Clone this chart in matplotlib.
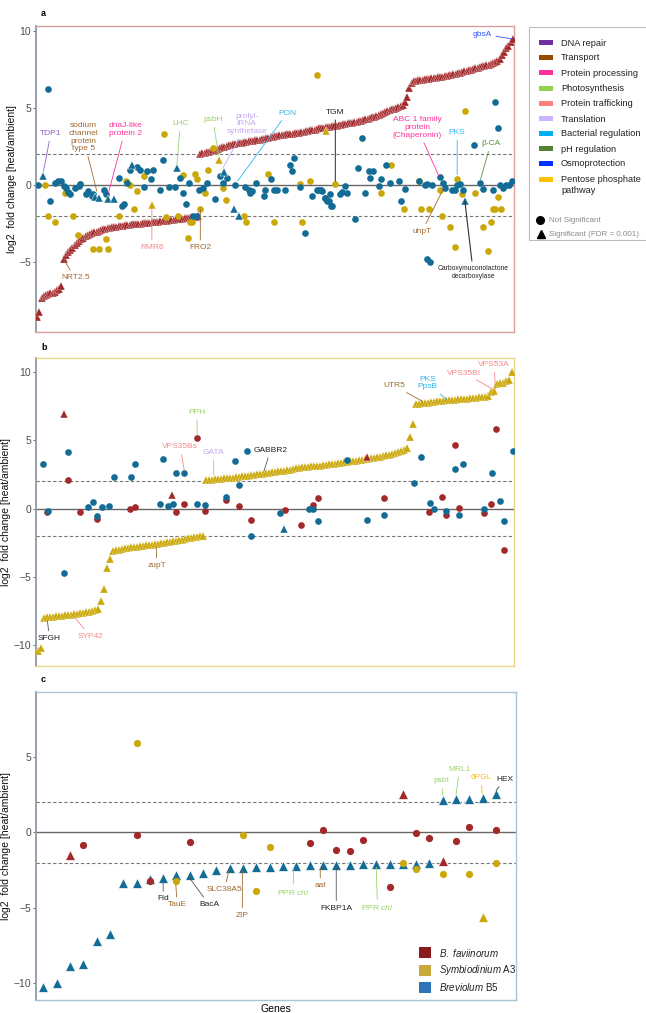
import matplotlib
matplotlib.use("Agg")
import matplotlib.pyplot as plt
from matplotlib.patches import Rectangle
from matplotlib.lines import Line2D

plt.rcParams['font.family'] = ['Liberation Sans', 'DejaVu Sans']
plt.rcParams['mathtext.fontset'] = 'custom'
plt.rcParams['mathtext.it'] = 'Liberation Sans:italic'
plt.rcParams['mathtext.rm'] = 'Liberation Sans'

RED = '#A3282A'
GOLD = '#CBA80A'
BLUE = '#136C96'

# ---------------- Panel a : B. faviinorum (significant, sorted) ----------------
a_fav_neg = [-8.5, -8.2,
             -7.3, -7.2, -7.1, -7.05, -7.0, -6.95, -6.9, -6.8, -6.7, -6.55,
             -4.8,
             -4.5, -4.35, -4.2, -4.05, -3.9, -3.75, -3.6, -3.5, -3.4, -3.3, -3.2,
             -3.15, -3.1, -3.05, -3.0, -2.95, -2.9, -2.86, -2.82, -2.79, -2.76, -2.73, -2.7, -2.68, -2.66, -2.64, -2.62,
             -2.6, -2.58, -2.56, -2.54, -2.52, -2.5, -2.49, -2.48, -2.46, -2.45, -2.44, -2.42, -2.4,
             -2.39, -2.38, -2.36, -2.35, -2.33, -2.31, -2.29, -2.27, -2.25, -2.23, -2.21, -2.2, -2.18, -2.16, -2.14,
             -2.12, -2.1, -2.08, -2.06, -2.04, -2.02]
a_fav_pos = [2.0, 2.05, 2.1, 2.12, 2.15, 2.2, 2.25, 2.3, 2.35, 2.4, 2.45, 2.5, 2.55, 2.6,
             2.62, 2.65, 2.68, 2.7, 2.73, 2.76, 2.8,
             2.82, 2.84, 2.86, 2.88, 2.9, 2.92, 2.94, 2.96,
             3.0, 3.03, 3.06, 3.1, 3.13, 3.16, 3.2, 3.22,
             3.24, 3.26, 3.28, 3.3, 3.32, 3.34, 3.36,
             3.38, 3.4, 3.43, 3.46, 3.49, 3.52, 3.55, 3.57,
             3.6, 3.64, 3.68, 3.7, 3.72,
             3.74, 3.76, 3.78, 3.8, 3.83, 3.86,
             3.89, 3.92, 3.95, 3.98, 4.0, 4.02, 4.04, 4.06, 4.1,
             4.14, 4.18, 4.22, 4.26, 4.3, 4.34, 4.38, 4.42,
             4.48, 4.54, 4.6, 4.66, 4.72, 4.78, 4.84,
             4.9, 4.96, 5.02, 5.08, 5.12, 5.16,
             5.35, 5.7, 6.3, 6.6, 6.75,
             6.77, 6.79, 6.81, 6.83, 6.85, 6.87, 6.89, 6.91, 6.93, 6.95, 6.97,
             7.0, 7.03, 7.06, 7.09, 7.12, 7.15, 7.18, 7.2,
             7.24, 7.28, 7.32, 7.36, 7.4, 7.44, 7.48, 7.52,
             7.56, 7.6, 7.64, 7.68, 7.72, 7.76, 7.8,
             7.86, 7.92, 7.98, 8.05, 8.15,
             8.4, 8.6, 8.85, 9.0, 9.25, 9.45]

# Breviolum B5 in panel a (not significant)
a_bre_gene = [4.8, 0.6, 5.9, 8.2, 9.7, 10.9, 12.0, 13.2, 14.2, 15.0, 17.3, 18.8, 19.5, 22.3, 23.3, 24.8, 25.6,
              30.2, 31.4, 37.0, 38.5, 39.5, 40.8, 42.0, 45.3, 46.8, 48.6, 49.8, 52.8, 51.5, 55.6, 57.1, 59.7,
              62.7, 65.0, 66.2, 67.7, 68.8, 70.8, 72.6, 73.3, 75.3, 77.1, 80.9, 83.2, 84.4, 86.2, 90.0, 94.5,
              96.0, 96.5, 97.6, 99.5, 102.9, 103.6, 106.2, 107.4, 108.9, 112.7, 114.7, 115.8, 116.8, 119.2,
              121.4, 124.8, 127.1, 129.4, 130.5, 132.4, 133.2, 127.8, 128.9, 130.9, 131.6, 133.9, 133.1, 137.4,
              138.4, 140.7, 140.0, 144.5, 145.6, 147.5, 149.0, 150.6, 151.3, 152.5, 155.1, 155.9, 158.6, 160.4,
              164.2, 165.3, 166.8, 173.3, 175.9, 177.1, 179.3, 182.8, 184.3, 185.0, 188.4, 189.5, 190.7, 191.9,
              193.4, 198.3, 201.0, 202.5, 207.1, 208.1, 209.2, 210.1, 211.6, 212.7, 214.2, 215.7, 176.8, 178.3]
a_bre_val = [6.2, 0.0, -1.0, 0.15, 0.26, 0.3, -0.06, -0.17, -0.43, -0.56, -0.17, -0.06, 0.09, -0.6, -0.39, -0.71, -0.6,
             -0.28, -0.56, 0.47, -1.35, -1.2, 0.15, 1.0, 1.16, 0.95, -0.13, 0.9, 0.95, 0.4, -0.34, 1.6, -0.13,
             -0.13, 0.47, -0.5, -1.25, 0.15, -2.0, -2.0, -0.28, -0.17, 0.15, -0.92, 0.58, 0.15, 0.47, 0.04, -0.13,
             -0.28, -0.5, -0.39, 0.15, -0.7, -0.34, 0.37, -0.28, -0.28, -0.28, 1.3, 0.9, 1.76, -0.13,
             -3.12, -0.7, -0.34, -0.39, -0.82, -1.03, -1.35, -0.34, -0.34, -0.82, -1.0, -1.35, -0.56, -0.56,
             -0.43, -0.5, -0.06, -2.2, 1.08, 3.05, -0.5, 0.9, 0.47, 0.9, -0.06, 0.37, 1.33, 0.15,
             0.26, -1.0, -0.22, 0.26, 0.0, 0.09, 0.04, 0.52, 0.15, -0.17, -0.28, -0.34, 0.0, 0.09,
             -0.28, 2.58, 0.15, -0.22, -0.28, 5.38, 3.7, 0.0, -0.17, 0.0, 0.0, 0.26, -4.8, -4.95]
a_bre_sig_gene = [2.9, 26.4, 27.9, 32.4, 34.7, 43.0, 63.5, 84.7, 89.2, 91.5, 194.2]
a_bre_sig_val = [0.58, -0.77, -0.82, -0.88, -0.88, 1.33, 1.12, 0.86, -1.57, -2.0, -1.0]

# Symbiodinium A3 in panel a
a_sym_gene = [3.6, 4.8, 8.2, 12.7, 16.2, 18.5, 19.5, 25.6, 27.9, 31.4, 32.4, 37.0, 40.5, 42.0, 43.8, 45.3, 48.6,
              57.7, 58.6, 63.8, 66.2, 69.2, 70.3, 68.3, 71.8, 72.6, 74.0, 76.4, 77.6, 79.8, 84.4, 85.9, 93.8,
              95.0, 105.0, 107.4, 119.2, 120.3, 123.8, 127.0, 135.4, 155.9, 160.7, 166.5, 174.3, 177.8, 173.3,
              182.8, 183.9, 187.4, 189.5, 190.4, 193.0, 194.2, 198.7, 202.5, 204.7, 205.9, 207.0, 208.0, 210.4, 209.2]
a_sym_val = [0.04, -2.0, -2.4, -0.5, -2.0, -3.2, 0.1, -4.15, -4.15, -3.46, -4.15, -2.0, 0.3, 0.04, -1.57, -0.39, 0.58,
             3.33, -2.06, -2.0, 0.65, -2.4, -2.4, -3.4, 0.73, 0.37, -1.57, -0.5, 0.95, 2.4, -0.2, -0.93, -2.0,
             -2.4, 0.73, -2.37, 0.09, -2.37, 0.26, 7.1, 0.09, -0.5, 1.33, -1.57, -1.57, -1.57, 0.26,
             -0.34, -2.0, -2.7, -4.0, 0.37, -0.6, 4.77, -0.5, -2.7, -4.26, -2.4, -1.57, -1.57, -1.57, -0.77]
a_sym_sig_gene = [52.0, 82.4, 131.0]
a_sym_sig_val = [-1.3, 1.65, 3.48]

# ---------------- Panel b : Symbiodinium A3 (significant, sorted) ----------------
b_sym_neg = [-10.4, -10.2,
             -7.98, -7.95, -7.92, -7.9, -7.87, -7.85, -7.82, -7.8, -7.77, -7.74, -7.7, -7.67, -7.63, -7.6, -7.56,
             -7.52, -7.48, -7.42, -7.35,
             -6.75, -5.9, -4.35, -3.7,
             -3.1, -3.05, -3.0, -2.95, -2.9, -2.87, -2.84, -2.81, -2.78, -2.75, -2.72, -2.69, -2.66, -2.63, -2.6,
             -2.58, -2.54, -2.5, -2.46, -2.42, -2.38, -2.34, -2.3, -2.26, -2.22, -2.18, -2.14, -2.1, -2.06, -2.03, -2.0]
b_sym_pos = [2.08, 2.1, 2.12, 2.14, 2.16, 2.18, 2.2, 2.22, 2.24, 2.27, 2.3, 2.33, 2.36,
             2.38, 2.41, 2.44, 2.47, 2.5, 2.53, 2.56, 2.59, 2.62, 2.65, 2.68, 2.71, 2.74, 2.77, 2.8, 2.83, 2.87,
             2.98, 3.0, 3.02, 3.04, 3.06, 3.08, 3.1, 3.12, 3.14, 3.17, 3.2, 3.23, 3.26, 3.29, 3.32, 3.35, 3.38,
             3.41, 3.44, 3.47,
             3.5, 3.53, 3.56, 3.6, 3.64, 3.68, 3.72, 3.76, 3.8, 3.84, 3.88, 3.93, 3.98, 4.05, 4.12, 4.2, 4.3, 4.45,
             5.2, 6.2,
             7.62, 7.65, 7.68, 7.71, 7.74, 7.77, 7.8, 7.83, 7.86, 7.88, 7.9, 7.92, 7.94, 7.96, 7.98, 8.0, 8.02,
             8.04, 8.06, 8.08, 8.1, 8.12, 8.15, 8.18, 8.22,
             8.5, 8.6, 9.1, 9.15, 9.2, 9.3, 9.4, 10.0]

b_fav_gene = [10.3, 3.3, 14.2, 19.9, 30.8, 32.5, 46.2, 48.8, 53.0, 55.8, 62.8, 67.0, 71.1, 82.2, 87.5, 91.7,
              93.3, 115.3, 130.3, 134.7, 135.8, 138.8, 140.3, 148.4, 151.0, 152.5, 155.3]
b_fav_val = [2.12, -0.27, -0.24, -0.75, 0.0, 0.12, -0.24, 0.34, 5.18, -0.2, 0.66, 0.17, -0.85, -0.12, -1.22, 0.29,
             0.8, 0.78, -0.27, 0.83, -0.44, 4.65, 0.05, -0.32, 0.34, 5.8, -3.04]
b_fav_sig_gene = [8.9, 44.7, 109.7]
b_fav_sig_val = [6.93, 1.02, 3.8]

b_bre_gene = [1.9, 3.4, 10.3, 8.8, 16.9, 18.6, 19.9, 21.4, 23.9, 25.5, 31.1, 32.5, 40.6, 41.9, 43.4, 45.1, 46.2,
              48.8, 53.0, 55.8, 62.8, 65.6, 67.0, 69.7, 71.1, 80.6, 90.3, 91.7, 93.3, 102.8, 109.7, 115.3,
              125.1, 127.7, 130.6, 131.9, 136.0, 138.8, 140.3, 141.6, 148.4, 151.2, 154.0, 155.3, 158.1]
b_bre_val = [3.28, -0.15, 4.1, -4.74, 0.1, 0.49, -0.51, 0.1, 0.22, 2.31, 2.31, 3.28, 0.36, 3.63, 0.22, 0.36, 2.6,
             2.6, 0.34, 0.29, 0.85, 3.45, 1.7, 4.18, -1.97, -0.32, 0.0, 0.0, -0.88, 3.58, -0.8, -0.44,
             1.87, 3.75, 0.41, 0.0, -0.2, 2.9, -0.44, 3.28, 0.0, 2.6, 0.54, -0.92, 4.18]
b_bre_sig_gene = [81.9]
b_bre_sig_val = [-1.48]

# ---------------- Panel c : Breviolum B5 (significant, sorted) ----------------
c_bre = [-10.23, -10.0, -8.84, -8.73, -7.18, -6.73, -3.34, -3.34, -3.08, -3.01, -2.79, -2.79, -2.66, -2.48,
         -2.37, -2.37, -2.3, -2.3, -2.24, -2.24, -2.19, -2.15, -2.13, -2.13, -2.1, -2.1, -2.08, -2.08, -2.06,
         -2.04, 2.17, 2.21, 2.24, 2.3, 2.52]
c_fav_gene = [3, 7, 8, 11, 20, 21, 22, 23, 24, 26, 28, 29, 31, 32, 34]
c_fav_val = [-0.84, -0.2, -3.19, -0.66, -0.69, 0.13, -1.15, -1.24, -0.49, -3.63, -0.04, -0.4, -0.6, 0.33, 0.13]
c_fav_sig_gene = [2, 27, 30]
c_fav_sig_val = [-1.48, 2.57, -1.88]
c_sym_gene = [7, 10, 15, 16, 17, 27, 28, 30, 32, 34]
c_sym_val = [5.89, -3.19, -0.18, -3.85, -0.95, -2.04, -2.44, -2.75, -2.75, -2.04]
c_sym_sig_gene = [33]
c_sym_sig_val = [-5.63]

pathways = ['DNA repair', 'Transport', 'Protein processing', 'Photosynthesis', 'Protein trafficking',
            'Translation', 'Bacterial regulation', 'pH regulation', 'Osmoprotection',
            'Pentose phosphate\npathway']
pathway_colors = ['#7030A0', '#964B00', '#FF3399', '#92D050', '#FF7F7F', '#CCB3FF', '#00B0F0',
                  '#548235', '#0033FF', '#FFC000']
species = [r'$\it{B.\ faviinorum}$', r'$\it{Symbiodinium}$ A3', r'$\it{Breviolum}$ B5']
species_colors = ['#8B1A1A', '#C9A93B', '#2E75B6']

C_PURPLE = '#9560C8'; C_BROWN = '#A06A32'; C_PINK = '#FF3399'; C_LGREEN = '#9BD36A'
C_LAV = '#C5A8F0'; C_SKY = '#2EB8EE'; C_SALMON = '#F4898A'; C_DGREEN = '#5B8E3A'
C_BLUE = '#2F55F5'; C_AMBER = '#FFC000'; C_BLACK = '#222222'

W, H = 646, 1013
fig = plt.figure(figsize=(W / 100, H / 100), dpi=100)


def axes_px(l, t, r, b):
    return fig.add_axes([l / W, 1 - b / H, (r - l) / W, (b - t) / H])


def style_axes(ax, border, ylim, xlim, yticks):
    ax.set_xlim(*xlim)
    ax.set_ylim(*ylim)
    ax.set_yticks(yticks)
    ax.set_xticks([])
    for s in ['top', 'right', 'bottom']:
        ax.spines[s].set_color(border)
        ax.spines[s].set_linewidth(1.0)
    ax.spines['left'].set_color('#8C9AA6')
    ax.spines['left'].set_linewidth(1.3)
    ax.tick_params(axis='y', length=2, width=0.6, color='#555555', labelsize=7.5, labelcolor='#4D4D4D', pad=1.5)
    ax.axhline(0, color='#666666', lw=1.0, zorder=1)
    for yv in (2, -2):
        ax.axhline(yv, color='#777777', lw=0.8, ls=(0, (3, 2)), zorder=1)
    ax.set_ylabel('log2  fold change [heat/ambient]', fontsize=7.5, labelpad=2, color='#111111')


def ann(ax, text, xy, xytext, color, fs=6.0, lc=None, lw=0.6, **kw):
    ax.annotate(text, xy=xy, xytext=xytext, textcoords='data', color=color, fontsize=fs,
                ha='center', va='center', linespacing=1.15,
                arrowprops=dict(arrowstyle='-', color=lc or color, lw=lw, shrinkA=1, shrinkB=0),
                zorder=6, **kw)


# ---------------- Panel a ----------------
axa = axes_px(36, 26, 514, 332)
na = len(a_fav_neg) + len(a_fav_pos)
style_axes(axa, '#D9A0A0', (-9.5, 10.3), (-0.5, na - 0.5), [-5, 0, 5, 10])
axa.plot(range(len(a_fav_neg)), a_fav_neg, '^', color=RED, ms=6, mec='white', mew=0.2, ls='none', zorder=3)
axa.plot(range(len(a_fav_neg), na), a_fav_pos, '^', color=RED, ms=6, mec='white', mew=0.2, ls='none', zorder=3)
axa.plot(a_sym_gene, a_sym_val, 'o', color=GOLD, ms=4.8, mew=0, ls='none', zorder=4)
axa.plot(a_bre_gene, a_bre_val, 'o', color=BLUE, ms=4.8, mew=0, ls='none', zorder=4)
axa.plot(a_sym_sig_gene, a_sym_sig_val, '^', color=GOLD, ms=6.2, mec='white', mew=0.3, ls='none', zorder=4)
axa.plot(a_bre_sig_gene, a_bre_sig_val, '^', color=BLUE, ms=6.2, mec='white', mew=0.3, ls='none', zorder=4)

ann(axa, 'TDP1', (2.9, 0.9), (6.2, 3.35), C_PURPLE)
ann(axa, 'sodium\nchannel\nprotein\ntype 5', (27.1, -0.39), (20.9, 3.1), C_BROWN)
ann(axa, 'dnaJ-like\nprotein 2', (32.4, -0.5), (40.0, 3.6), C_PINK)
ann(axa, 'LHC', (63.5, 1.38), (65.0, 3.96), C_LGREEN)
ann(axa, 'psbH', (82.4, 1.94), (79.8, 4.24), C_LGREEN)
ann(axa, 'prolyl-\ntRNA\nsynthetase', (84.4, 1.12), (95.2, 3.96), C_LAV)
ann(axa, 'PON', (91.0, 0.26), (113.5, 4.67), C_SKY)
ann(axa, 'TGM', (135.4, 0.26), (135.4, 4.71), C_BLACK, lc='#444444', lw=0.8)
ann(axa, 'ABC 1 family\nprotein\n(Chaperonin)', (182.4, 0.58), (172.5, 3.74), C_PINK)
ann(axa, 'PKS', (190.7, 0.69), (190.7, 3.42), C_SKY)
ann(axa, 'β-CA', (201.3, 0.37), (205.9, 2.67), C_DGREEN)
ann(axa, 'gbsA', (215.7, 9.46), (202.1, 9.78), C_BLUE)
ann(axa, 'uhpT', (184.7, -0.17), (174.8, -2.97), C_BROWN)
ann(axa, 'Carboxymuconolactone\ndecarboxylase', (194.2, -1.03), (198.0, -5.66), C_BLACK, fs=4.9,
    lc='#333333', lw=0.8)
ann(axa, 'RMR6', (52.1, -1.42), (52.1, -4.04), C_SALMON)
ann(axa, 'FRO2', (74.1, -1.57), (74.1, -4.04), C_BROWN)
ann(axa, 'NRT2.5', (12.4, -4.9), (17.3, -5.98), C_BROWN)

# legend for panel a (drawn in figure pixel coordinates)
fig.patches.append(Rectangle((529 / W, 1 - 240 / H), 140 / W, 213 / H, transform=fig.transFigure,
                             facecolor='white', edgecolor='#BBBBBB', lw=0.8, zorder=1))
rows = [43, 58, 73, 88.7, 103.7, 119, 133.7, 149, 164, 180]
for name, col, yy in zip(pathways, pathway_colors, rows):
    fig.patches.append(Rectangle((539 / W, 1 - (yy + 2.5) / H), 14 / W, 5 / H, transform=fig.transFigure,
                                 facecolor=col, edgecolor='none', zorder=2))
    fig.text(561 / W, 1 - (yy - 4.5) / H, name, fontsize=6.7, ha='left', va='top', color='#222222',
             linespacing=1.2, zorder=3)
fig.add_artist(Line2D([540 / W], [1 - 220 / H], marker='o', color='black', ms=5.5, ls='none',
                      transform=fig.transFigure))
fig.add_artist(Line2D([541 / W], [1 - 234.5 / H], marker='^', color='black', ms=6, ls='none',
                      transform=fig.transFigure))
fig.text(549 / W, 1 - 220 / H, 'Not Significant', fontsize=5.8, color='#8A8A8A', ha='left', va='center')
fig.text(549 / W, 1 - 234 / H, 'Significant (FDR = 0.001)', fontsize=5.8, color='#8A8A8A', ha='left',
         va='center')

# ---------------- Panel b ----------------
axb = axes_px(36, 358, 514, 666)
nb = len(b_sym_neg) + len(b_sym_pos)
style_axes(axb, '#E9D88C', (-11.5, 11.0), (-0.5, nb - 0.5), [-10, -5, 0, 5, 10])
axb.plot(range(len(b_sym_neg)), b_sym_neg, '^', color=GOLD, ms=6, mec='white', mew=0.2, ls='none', zorder=3)
axb.plot(range(len(b_sym_neg), nb), b_sym_pos, '^', color=GOLD, ms=6, mec='white', mew=0.2, ls='none', zorder=3)
axb.plot(b_fav_gene, b_fav_val, 'o', color=RED, ms=4.8, mew=0, ls='none', zorder=4)
axb.plot(b_bre_gene, b_bre_val, 'o', color=BLUE, ms=4.8, mew=0, ls='none', zorder=4)
axb.plot(b_fav_sig_gene, b_fav_sig_val, '^', color=RED, ms=6.2, mec='white', mew=0.3, ls='none', zorder=4)
axb.plot(b_bre_sig_gene, b_bre_sig_val, '^', color=BLUE, ms=6.2, mec='white', mew=0.3, ls='none', zorder=4)

ann(axb, 'PPH', (53.1, 5.4), (53.1, 7.03), C_LGREEN)
ann(axb, 'VPS35Bs', (48.8, 2.8), (47.5, 4.5), C_SALMON)
ann(axb, 'GATA', (58.6, 2.48), (58.6, 4.11), C_LAV)
ann(axb, 'GABBR2', (75.3, 2.72), (77.5, 4.26), C_BLACK, lc='#555555')
ann(axb, 'zupT', (39.5, -2.8), (39.7, -4.16), C_BROWN)
ann(axb, 'SFGH', (3.3, -8.2), (4.0, -9.49), C_BLACK, lc='#555555')
ann(axb, 'SYP42', (12.5, -7.98), (17.5, -9.32), C_SALMON)
ann(axb, 'UTR5', (128.1, 7.83), (118.6, 8.98), C_BROWN)
ann(axb, 'PKS\nPpsB', (136.1, 7.96), (129.7, 9.17), C_SKY)
ann(axb, 'VPS35BI', (151.4, 8.73), (141.9, 9.9), C_SALMON)
ann(axb, 'VPS53A', (152.3, 8.73), (151.9, 10.5), C_SALMON)

# ---------------- Panel c ----------------
axc = axes_px(36, 692, 516, 1000)
style_axes(axc, '#A9C6D9', (-11.1, 9.3), (-0.55, 35.5), [-10, -5, 0, 5])
axc.plot(range(len(c_bre)), c_bre, '^', color=BLUE, ms=7, mec='white', mew=0.5, ls='none', zorder=3)
axc.plot(c_fav_gene, c_fav_val, 'o', color=RED, ms=5.2, mew=0, ls='none', zorder=4)
axc.plot(c_sym_gene, c_sym_val, 'o', color=GOLD, ms=5.2, mew=0, ls='none', zorder=4)
axc.plot(c_fav_sig_gene, c_fav_sig_val, '^', color=RED, ms=7, mec='white', mew=0.5, ls='none', zorder=4)
axc.plot(c_sym_sig_gene, c_sym_sig_val, '^', color=GOLD, ms=7, mec='white', mew=0.5, ls='none', zorder=4)

ann(axc, 'Fld', (9.0, -3.3), (9.0, -4.41), C_BLACK, lc='#555555')
ann(axc, 'TauE', (9.95, -3.45), (10.05, -4.78), C_BROWN)
ann(axc, 'BacA', (10.9, -2.92), (12.45, -4.78), C_BLACK, lc='#555555')
ann(axc, 'SLC38A5', (13.95, -2.5), (13.6, -3.79), C_BROWN)
ann(axc, 'ZIP', (14.95, -2.55), (14.95, -5.51), C_BROWN)
ann(axc, r'PPR $\it{chl}$', (18.8, -2.45), (18.75, -4.0), C_LGREEN)
ann(axc, 'aat', (20.8, -2.35), (20.8, -3.52), C_BROWN)
ann(axc, 'FKBP1A', (22.0, -2.35), (22.0, -5.03), C_BLACK, lc='#555555')
ann(axc, r'PPR $\it{chl}$', (25.0, -2.3), (25.1, -5.0), C_LGREEN)
ann(axc, 'psbI', (30.0, 2.45), (29.9, 3.41), C_LGREEN)
ann(axc, 'MRL1', (31.0, 2.5), (31.25, 4.16), C_LGREEN)
ann(axc, '6PGL', (32.95, 2.58), (32.9, 3.63), C_AMBER)
ann(axc, 'HEX', (34.0, 2.78), (34.7, 3.52), C_BLACK, lc='#444444')
axc.set_xlabel('Genes', fontsize=7.5, labelpad=3)

for (lab, col, yy) in zip(species, species_colors, [952.7, 970, 987]):
    fig.patches.append(Rectangle((419 / W, 1 - (yy + 5.5) / H), 12 / W, 11 / H, transform=fig.transFigure,
                                 facecolor=col, edgecolor='none', zorder=5))
    fig.text(439 / W, 1 - yy / H, lab, fontsize=7, ha='left', va='center', color='#222222', zorder=6)

# panel labels
for lab, yy in [('a', 13), ('b', 348), ('c', 680)]:
    fig.text(41 / W, 1 - yy / H, lab, fontsize=6.5, fontweight='bold', ha='left', va='center')

fig.savefig('out.png', dpi=100)
